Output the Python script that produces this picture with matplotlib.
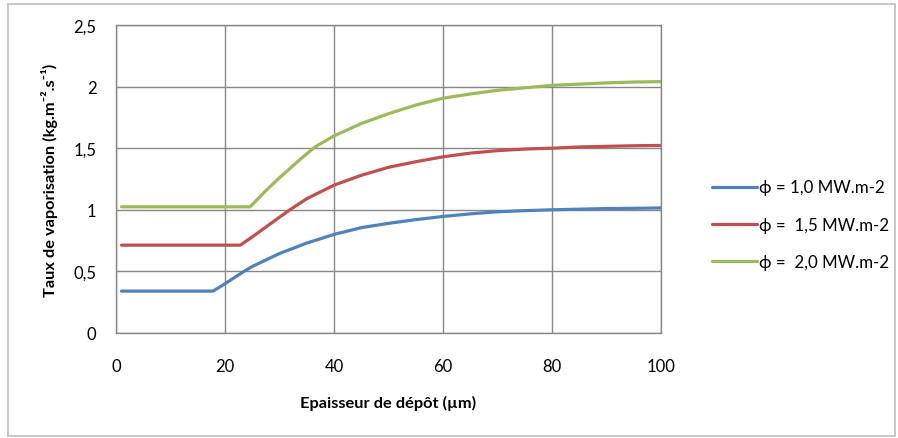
import matplotlib
matplotlib.use('Agg')
import matplotlib.pyplot as plt
from matplotlib.patches import Rectangle
from matplotlib.ticker import FuncFormatter

plt.rcParams['font.family'] = ['Lato', 'DejaVu Sans']

# values
x_blue = [1, 17.8, 20, 23.3, 25, 30, 35, 40, 45, 50, 55, 60, 65, 70, 75, 80, 85, 90, 95, 100]
y_blue = [0.34, 0.34, 0.40, 0.495, 0.54, 0.645, 0.73, 0.80, 0.855, 0.89, 0.92, 0.946, 0.967,
          0.984, 0.993, 1.00, 1.005, 1.01, 1.012, 1.015]
x_red = [1, 22.8, 25, 30, 31.9, 35, 40, 45, 50, 55, 60, 65, 70, 75, 80, 85, 90, 95, 100]
y_red = [0.713, 0.713, 0.78, 0.94, 1.00, 1.09, 1.20, 1.28, 1.345, 1.39, 1.43, 1.46,
         1.48, 1.493, 1.50, 1.51, 1.515, 1.52, 1.522]
x_green = [1, 24.6, 27.6, 30, 33.8, 36.5, 40, 45, 50, 55, 60, 65, 70, 75, 80, 85, 90, 95, 100]
y_green = [1.024, 1.024, 1.16, 1.26, 1.41, 1.51, 1.60, 1.70, 1.78, 1.85, 1.906, 1.94, 1.97,
           1.99, 2.01, 2.02, 2.03, 2.037, 2.04]
labels = ['\u03d5 = 1,0 MW.m-2', '\u03d5 =  1,5 MW.m-2', '\u03d5 =  2,0 MW.m-2']
colors = ['#4F81BD', '#C0504D', '#9BBB59']
x_ticks = [0, 20, 40, 60, 80, 100]
y_ticks = [0, 0.5, 1, 1.5, 2, 2.5]

fig = plt.figure(figsize=(8.98, 4.39), dpi=100)
fig.patches.append(Rectangle((0.009, 0.005), 0.988, 0.984, transform=fig.transFigure,
                             fill=False, edgecolor='#BFBFBF', linewidth=1.2))
ax = fig.add_axes([0.1292, 0.2392, 0.6069, 0.7016])

series = [(x_blue, y_blue), (x_red, y_red), (x_green, y_green)]
for (xs, ys), lab, col in zip(series, labels, colors):
    ax.plot(xs, ys, color=col, linewidth=2.3, label=lab,
            solid_capstyle='round', solid_joinstyle='round')

ax.set_xlim(0, 100)
ax.set_ylim(0, 2.5)
ax.set_xticks(x_ticks)
ax.set_yticks(y_ticks)
ax.yaxis.set_major_formatter(FuncFormatter(lambda v, p: ('%g' % v).replace('.', ',')))
ax.grid(True, color='#878787', linewidth=1.0)
ax.set_axisbelow(True)
for s in ax.spines.values():
    s.set_color('#878787')
    s.set_linewidth(1.0)
ax.tick_params(length=0, labelsize=12, colors='black')
ax.tick_params(axis='x', pad=18)
ax.tick_params(axis='y', pad=14)

ax.set_xlabel('Epaisseur de dépôt (µm)', fontsize=11.8, fontweight='bold', labelpad=15)
ax.set_ylabel('Taux de vaporisation (kg.m\u207b\u00b2.s\u207b\u00b9)', fontsize=11.8,
              fontweight='bold', labelpad=11)

fig.legend(loc='center left', bbox_to_anchor=(0.776, 0.486), frameon=False,
           fontsize=12.2, labelspacing=1.25, handlelength=2.65, handletextpad=0.1)

plt.savefig('out.png', dpi=100)
